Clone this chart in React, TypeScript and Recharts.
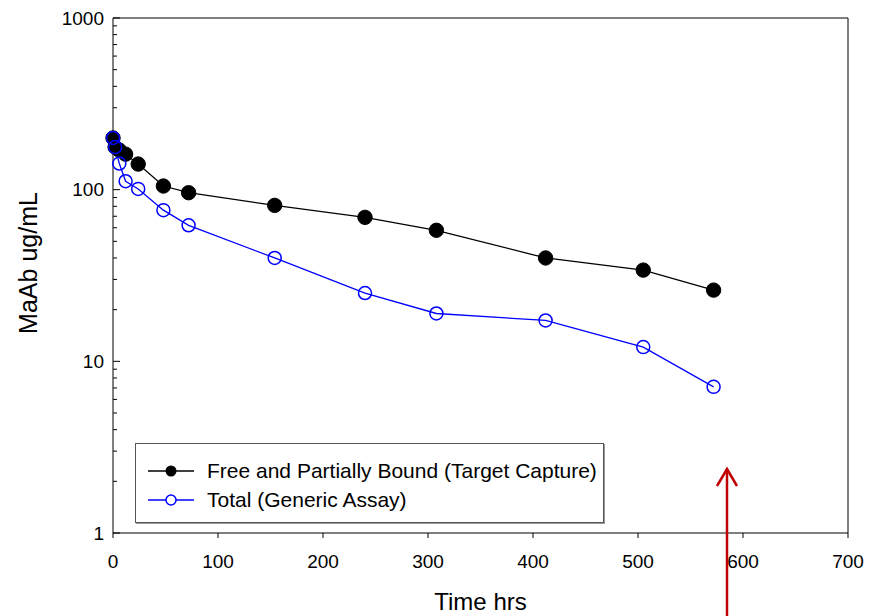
import { Line, LineChart, ReferenceLine, XAxis, YAxis } from "recharts";

// sampling times (hrs)
const times = [0, 2, 6, 12, 24, 48, 72, 154, 240, 308, 412, 505, 572];
// free and partially bound (target capture), ug/mL
const freeValues = [200, 177, 170, 161, 141, 105, 96, 81, 69, 58, 40, 34, 26];
// total (generic assay), ug/mL
const totalValues = [200, 177, 142, 112, 101, 76, 62, 40, 25, 19, 17.3, 12.1, 7.1];

const xTicks = [0, 100, 200, 300, 400, 500, 600, 700];
const yMajorTicks = [1, 10, 100, 1000];
const yMinorTicks = [
  2, 3, 4, 5, 6, 7, 8, 9, 20, 30, 40, 50, 60, 70, 80, 90, 200, 300, 400, 500,
  600, 700, 800, 900,
];

const data = times.map((t, i) => ({
  t,
  free: freeValues[i],
  total: totalValues[i],
}));

const FONT = "Arial, 'Liberation Sans', sans-serif";

function YTick({ x, y, payload }: any) {
  const major = yMajorTicks.includes(payload.value);
  return (
    <g>
      <line
        x1={x}
        x2={x + (major ? 7 : 4)}
        y1={y}
        y2={y}
        stroke="#000"
        strokeWidth={1}
      />
      {major && (
        <text
          x={x - 9}
          y={y}
          dy="0.35em"
          textAnchor="end"
          fill="#000"
          fontSize={19}
          fontFamily={FONT}
        >
          {payload.value}
        </text>
      )}
    </g>
  );
}

function YTitle() {
  return (
    <text
      x={28}
      y={263}
      transform="rotate(-90 28 263)"
      textAnchor="middle"
      dominantBaseline="central"
      fill="#000"
      fontSize={25}
      fontFamily={FONT}
    >
      MaAb ug/mL
    </text>
  );
}

function OpenDot({ cx, cy }: any) {
  return (
    <circle cx={cx} cy={cy} r={6.5} fill="none" stroke="#0000ff" strokeWidth={1.5} />
  );
}

function FilledDot({ cx, cy }: any) {
  return <circle cx={cx} cy={cy} r={7.2} fill="#000" stroke="#000" />;
}

export default function App() {
  return (
    <div style={{ position: "absolute", left: 0, top: 0, width: 875, height: 616 }}>
      <LineChart
        width={875}
        height={616}
        data={data}
        margin={{ top: 18, right: 27, bottom: 23, left: 0 }}
      >
        <XAxis
          dataKey="t"
          type="number"
          domain={[0, 700]}
          ticks={xTicks}
          interval={0}
          height={60}
          tickSize={5}
          tickMargin={17}
          stroke="#000"
          tick={{ fill: "#000", fontSize: 19, fontFamily: FONT }}
          label={{
            value: "Time hrs",
            position: "insideBottom",
            offset: -17,
            fill: "#000",
            fontSize: 24,
            fontFamily: FONT,
          }}
        />
        <YAxis
          scale="log"
          domain={[1, 1000]}
          ticks={[...yMajorTicks, ...yMinorTicks]}
          interval={0}
          allowDataOverflow
          width={113}
          tickSize={0}
          tickMargin={0}
          tickLine={false}
          stroke="#000"
          tick={<YTick />}
          label={<YTitle />}
        />
        <ReferenceLine y={1000} stroke="#000" strokeWidth={1} />
        <ReferenceLine x={700} stroke="#000" strokeWidth={1} />
        <Line
          dataKey="free"
          stroke="#000"
          strokeWidth={1.3}
          dot={<FilledDot />}
          isAnimationActive={false}
        />
        <Line
          dataKey="total"
          stroke="#0000ff"
          strokeWidth={1.3}
          dot={<OpenDot />}
          isAnimationActive={false}
        />
      </LineChart>

      {/* legend box */}
      <div
        style={{
          position: "absolute",
          left: 135,
          top: 443,
          width: 467,
          height: 78,
          border: "1px solid #555",
          boxShadow: "1px 1px 0 #999",
          background: "#fff",
          fontFamily: FONT,
          fontSize: 21,
          lineHeight: "24px",
          color: "#000",
        }}
      >
        <svg width={60} height={70} style={{ position: "absolute", left: 11, top: 0 }}>
          <line x1={1} x2={47} y1={27} y2={27} stroke="#000" strokeWidth={1.3} />
          <circle cx={24} cy={27} r={5.5} fill="#000" />
          <line x1={1} x2={47} y1={56} y2={56} stroke="#0000ff" strokeWidth={1.3} />
          <circle cx={24} cy={56} r={5} fill="#fff" stroke="#0000ff" strokeWidth={1.5} />
        </svg>
        <div style={{ position: "absolute", left: 71, top: 15, whiteSpace: "nowrap" }}>
          Free and Partially Bound (Target Capture)
        </div>
        <div style={{ position: "absolute", left: 71, top: 44, whiteSpace: "nowrap" }}>
          Total (Generic Assay)
        </div>
      </div>

      {/* red annotation arrow */}
      <svg
        width={875}
        height={616}
        style={{ position: "absolute", left: 0, top: 0, pointerEvents: "none" }}
      >
        <line x1={727} x2={727} y1={469} y2={616} stroke="#c00000" strokeWidth={2.5} />
        <polyline
          points="717,486 727,469 737,486"
          fill="none"
          stroke="#c00000"
          strokeWidth={2.5}
        />
      </svg>
    </div>
  );
}
